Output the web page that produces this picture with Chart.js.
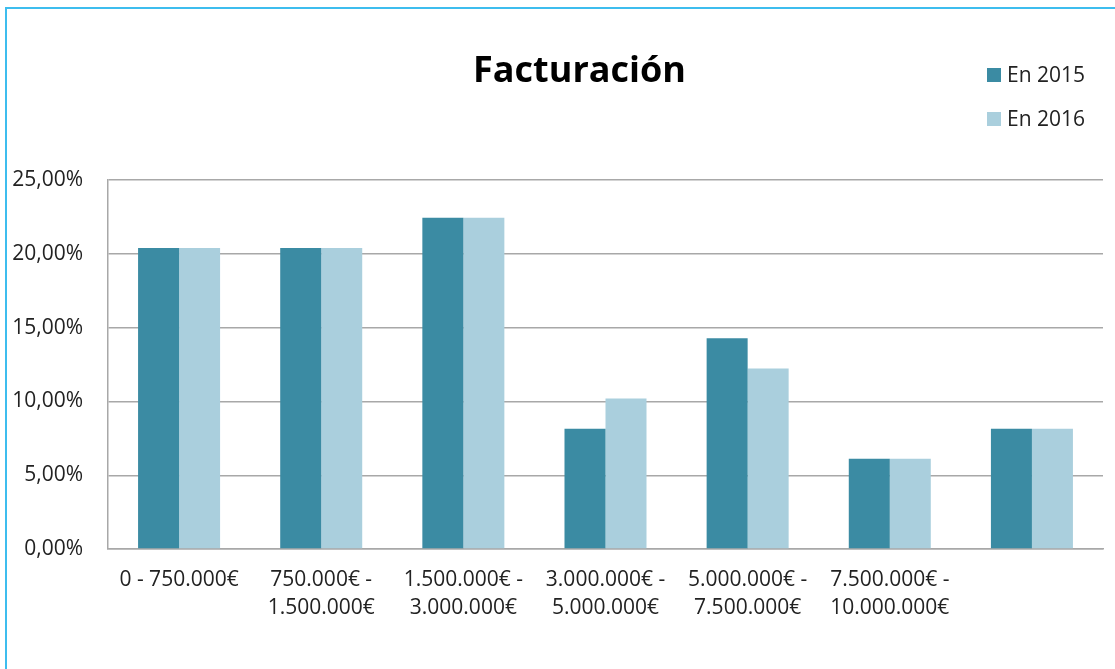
<!DOCTYPE html>
<html>
<head>
<meta charset="utf-8">
<script src="https://cdn.jsdelivr.net/npm/chart.js@4/dist/chart.umd.min.js"></script>
<style>
  html, body { margin: 0; padding: 0; background: #fff; overflow: hidden; }
  #wrap { position: relative; width: 1115px; height: 669px; }
  #frameL { position: absolute; left: 5px; top: 7px; width: 2px; height: 662px; background: #3dbdee; }
  #frameT { position: absolute; left: 5px; top: 7px; width: 1110px; height: 2px; background: #3dbdee; }
  canvas { position: absolute; left: 0; top: 0; }
</style>
</head>
<body>
<div id="wrap">
  <canvas id="c" width="1115" height="669"></canvas>
  <div id="frameL"></div>
  <div id="frameT"></div>
</div>
<script>
const categories = [
  ['0 - 750.000€'],
  ['750.000€ -', '1.500.000€'],
  ['1.500.000€ -', '3.000.000€'],
  ['3.000.000€ -', '5.000.000€'],
  ['5.000.000€ -', '7.500.000€'],
  ['7.500.000€ -', '10.000.000€'],
  ['']
];
const seriesNames = ['En 2015', 'En 2016'];
const values2015 = [20.41, 20.41, 22.45, 8.16, 14.29, 6.12, 8.16];
const values2016 = [20.41, 20.41, 22.45, 10.20, 12.24, 6.12, 8.16];
const yTickLabels = ['0,00%', '5,00%', '10,00%', '15,00%', '20,00%', '25,00%'];
const colors = ['#3b8ba3', '#aacfdd'];

const FONT = "'Open Sans', 'DejaVu Sans', sans-serif";

const titleShift = {
  id: 'titleShift',
  afterLayout(chart) {
    if (chart.titleBlock) { chart.titleBlock.left += 56; }
  }
};

const customLegend = {
  id: 'customLegend',
  afterDraw(chart) {
    const ctx = chart.ctx;
    ctx.save();
    ctx.font = '21px ' + FONT;
    ctx.textBaseline = 'middle';
    ctx.textAlign = 'left';
    chart.data.datasets.forEach((ds, i) => {
      const cy = 75 + i * 44;
      ctx.fillStyle = ds.backgroundColor;
      ctx.fillRect(987, cy - 7, 14, 14);
      ctx.fillStyle = '#222';
      ctx.fillText(ds.label, 1007, cy + 1);
    });
    ctx.restore();
  }
};

new Chart(document.getElementById('c'), {
  type: 'bar',
  data: {
    labels: categories,
    datasets: [
      { label: seriesNames[0], data: values2015, backgroundColor: colors[0], borderWidth: 0 },
      { label: seriesNames[1], data: values2016, backgroundColor: colors[1], borderWidth: 0 }
    ]
  },
  options: {
    responsive: false,
    animation: false,
    layout: { padding: { left: 0, right: 12, top: 0, bottom: 30 } },
    datasets: { bar: { barPercentage: 1.0, categoryPercentage: 0.577 } },
    plugins: {
      legend: { display: false },
      tooltip: { enabled: false },
      title: {
        display: true,
        text: 'Facturación',
        color: '#000',
        font: { family: FONT, size: 36, weight: 'bold', lineHeight: 1.2 },
        padding: { top: 50, bottom: 87 }
      }
    },
    scales: {
      x: {
        grid: { display: false, drawTicks: false },
        border: { display: true, color: '#a8a8a8', width: 1.5 },
        ticks: {
          color: '#222',
          font: { family: FONT, size: 21, lineHeight: 1.333 },
          padding: 17,
          maxRotation: 0,
          autoSkip: false
        }
      },
      y: {
        min: 0,
        max: 25,
        afterFit(scale) { scale.width = 108; },
        grid: { color: '#a8a8a8', lineWidth: 1.5, drawTicks: false },
        border: { display: true, color: '#a8a8a8', width: 1.5 },
        ticks: {
          stepSize: 5,
          padding: 25,
          color: '#222',
          font: { family: FONT, size: 21 },
          callback: (v, i) => yTickLabels[i]
        }
      }
    }
  },
  plugins: [titleShift, customLegend]
});
</script>
</body>
</html>
